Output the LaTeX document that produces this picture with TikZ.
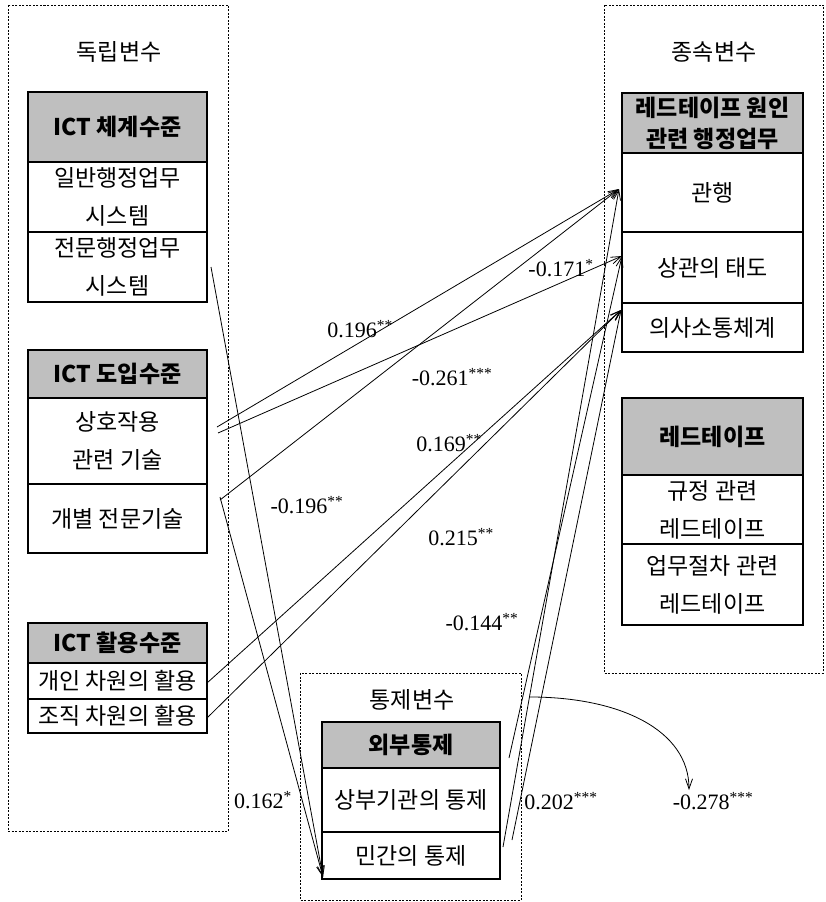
\documentclass[tikz,border=0pt]{standalone}
\usepackage{fontspec}
\setmainfont{Liberation Serif}
\newfontfamily\kr{Noto Sans CJK KR}
\usetikzlibrary{arrows.meta}
\newcommand\stars[1]{\textsuperscript{#1}}
\begin{document}
\begin{tikzpicture}[x=1pt,y=-1pt,
  every node/.style={inner sep=0pt},
  grp/.style={draw, line width=0.7pt, dash pattern=on 2pt off 1.5pt},
  cell/.style={draw, line width=1.2pt, font=\kr\fontsize{23}{38}\selectfont, align=center, anchor=center},
  hdr/.style={cell, fill=gray!50, font=\kr\bfseries\fontsize{23}{31}\selectfont},
  ttl/.style={font=\kr\fontsize{23}{26}\selectfont},
  lab/.style={font=\fontsize{22}{24}\selectfont},
  conn/.style={line width=0.8pt, -{Straight Barb[length=10pt,width=7pt]}}
]
\useasboundingbox (0,0) rectangle (826,902);

% group frames
\draw[grp] (8,5) rectangle (228,831);
\draw[grp] (604,5) rectangle (823,673);
\draw[grp] (300,673) rectangle (521,900);

\node[ttl] (tl) at (119,52) {독립변수};
\node[ttl] (tr) at (714,52) {종속변수};
\node[ttl] (tc) at (412,700) {통제변수};

% left column
\node[hdr, minimum width=179pt, minimum height=70pt] (h1) at (117.5,127) {ICT 체계수준};
\node[cell, minimum width=179pt, minimum height=70pt] (r11) at (117.5,197) {일반행정업무\\시스템};
\node[cell, minimum width=179pt, minimum height=70pt] (r12) at (117.5,267) {전문행정업무\\시스템};

\node[hdr, minimum width=179pt, minimum height=48pt] (h2) at (117.5,374) {ICT 도입수준};
\node[cell, minimum width=179pt, minimum height=86pt] (r21) at (117.5,441) {상호작용\\관련 기술};
\node[cell, minimum width=179pt, minimum height=69pt] (r22) at (117.5,518.5) {개별 전문기술};

\node[hdr, minimum width=179pt, minimum height=40pt] (h3) at (117.5,643) {ICT 활용수준};
\node[cell, minimum width=179pt, minimum height=36pt] (r31) at (117.5,681) {개인 차원의 활용};
\node[cell, minimum width=179pt, minimum height=34pt] (r32) at (117.5,716) {조직 차원의 활용};

% right column
\node[hdr, minimum width=181pt, minimum height=60pt] (rh1) at (712.5,123) {레드테이프 원인\\관련 행정업무};
\node[cell, minimum width=181pt, minimum height=79pt] (rr1) at (712.5,192.5) {관행};
\node[cell, minimum width=181pt, minimum height=71pt] (rr2) at (712.5,267.5) {상관의 태도};
\node[cell, minimum width=181pt, minimum height=49pt] (rr3) at (712.5,327.5) {의사소통체계};

\node[hdr, minimum width=181pt, minimum height=77pt] (rh2) at (712.5,436.5) {레드테이프};
\node[cell, minimum width=181pt, minimum height=69pt] (rr4) at (712.5,509.5) {규정 관련\\레드테이프};
\node[cell, minimum width=181pt, minimum height=81pt] (rr5) at (712.5,584.5) {업무절차 관련\\레드테이프};

% control column
\node[hdr, minimum width=178pt, minimum height=46pt] (ch) at (411,745) {외부통제};
\node[cell, minimum width=178pt, minimum height=64pt] (cr1) at (411,800) {상부기관의 통제};
\node[cell, minimum width=178pt, minimum height=47pt] (cr2) at (411,855.5) {민간의 통제};

% connector end points
\coordinate (tA) at (619,189);
\coordinate (tB) at (622,256);
\coordinate (tC) at (621,310);
\coordinate (tD) at (323,877);
\coordinate (s1) at (217,427);
\coordinate (s2) at (218,433);
\coordinate (s3) at (220,500);
\coordinate (s4) at (211,267);
\coordinate (s5) at (220,497);
\coordinate (s6) at (207,683);
\coordinate (s7) at (207,718);
\coordinate (c1) at (503,847);
\coordinate (c2) at (509,758);
\coordinate (c3) at (512,840);
\coordinate (q1) at (530,697);
\coordinate (q2) at (689,790);

\draw[conn] (s1) -- (tA);
\draw[conn] (s2) -- (tB);
\draw[conn] (s3) -- (tA);
\draw[conn] (s4) -- (tD);
\draw[conn] (s5) -- (tD);
\draw[conn] (s6) -- (tC);
\draw[conn] (s7) -- (tC);
\draw[conn] (c1) -- (tA);
\draw[conn] (c2) -- (tB);
\draw[conn] (c3) -- (tC);
\draw[conn] (q1) .. controls (620,697) and (689,730) .. (q2);

% labels
\node[lab] (l1) at (360,329) {0.196\stars{**}};
\node[lab] (l2) at (561,268) {-0.171\stars{*}};
\node[lab] (l3) at (452,377) {-0.261\stars{***}};
\node[lab] (l4) at (449,443) {0.169\stars{**}};
\node[lab] (l5) at (307,505) {-0.196\stars{**}};
\node[lab] (l6) at (461,537) {0.215\stars{**}};
\node[lab] (l7) at (482,622) {-0.144\stars{**}};
\node[lab] (l8) at (263,800) {0.162\stars{*}};
\node[lab] (l9) at (561,801) {0.202\stars{***}};
\node[lab] (l10) at (713,801) {-0.278\stars{***}};
\end{tikzpicture}
\end{document}
